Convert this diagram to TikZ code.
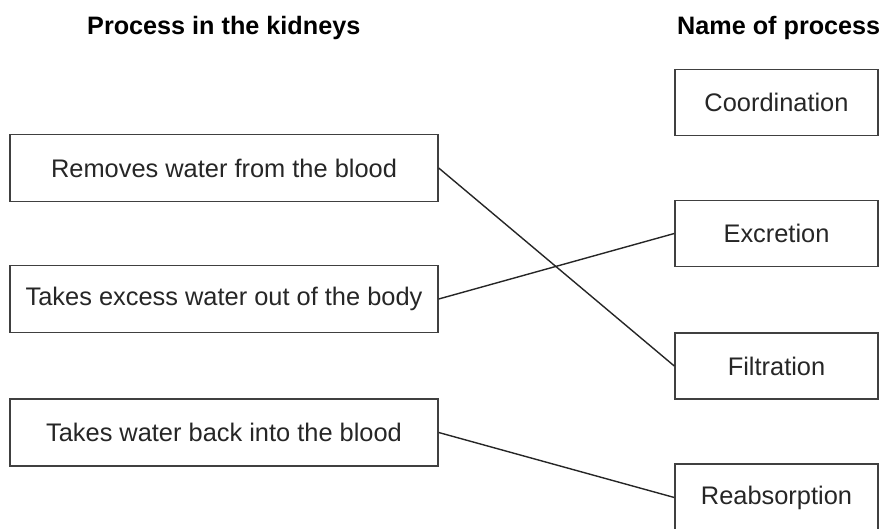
\documentclass[tikz,border=0pt]{standalone}
\usepackage{fontspec}
\setmainfont{Liberation Sans}
\begin{document}
\begin{tikzpicture}[x=1pt,y=-1pt,
  box/.style={draw=black!75,line width=1.4pt,inner sep=0pt,fill=white,
    font=\fontsize{25.4}{30}\selectfont,text=black!85},
  leftbox/.style={box,minimum width=428pt,minimum height=67pt},
  rightbox/.style={box,minimum width=203pt,minimum height=66pt},
  title/.style={font=\fontsize{25.2}{30}\selectfont\bfseries,inner sep=0pt,anchor=base west},
  link/.style={draw=black!85,line width=1.4pt}]
\useasboundingbox (0,0) rectangle (880,529);
\node[title] (t1) at (87,35) {Process in the kidneys};
\node[title] (t2) at (677,35) {Name of process};
\node[leftbox] (l1) at (224,168) {Removes water from the blood};
\node[leftbox] (l2) at (224,299) {Takes excess water out of the body};
\node[leftbox] (l3) at (224,432.5) {Takes water back into the blood};
\node[rightbox] (r1) at (776.5,102.5) {Coordination};
\node[rightbox] (r2) at (776.5,233.5) {Excretion};
\node[rightbox] (r3) at (776.5,366) {Filtration};
\node[rightbox,minimum height=67pt] (r4) at (776.5,497.5) {Reabsorption};
\draw[link] (l1.east) -- (r3.west);
\draw[link] (l2.east) -- (r2.west);
\draw[link] (l3.east) -- (r4.west);
\end{tikzpicture}
\end{document}
